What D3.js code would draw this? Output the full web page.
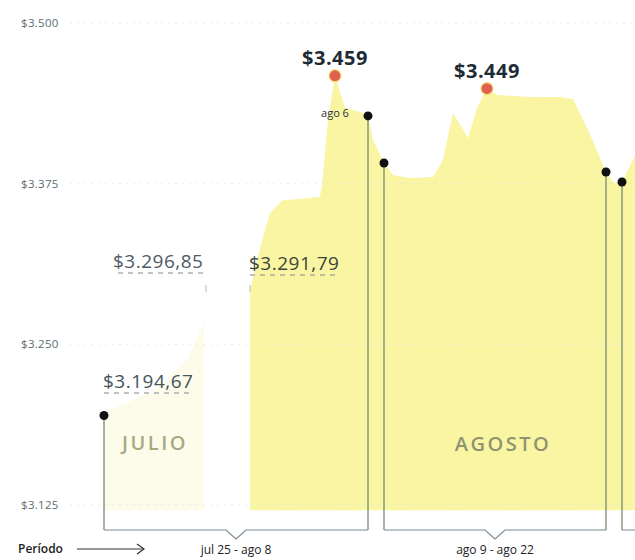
<!DOCTYPE html>
<html lang="es">
<head>
<meta charset="utf-8" />
<script src="https://cdn.jsdelivr.net/npm/d3@7"></script>
<style>
  body { margin: 0; background: #fff; }
  text { font-family: "Open Sans", sans-serif; }
</style>
</head>
<body>
<script>
// dias contados desde el 25 de julio
var diasJulio = [0, 1.5, 3, 4.5, 5.3];
var trmJulio  = [3198, 3206, 3218, 3240, 3268];

var dias = [7.74, 8.38, 8.8, 9.44, 11.45, 11.56, 11.88, 12.25, 12.78, 13.58, 14, 14.32,
            15, 15.53, 16.52, 17.87, 18.45, 19.04, 19.92, 20.45, 21.03, 21.62, 23.55,
            25.3, 26.07, 26.95, 28, 28.5, 29, 29.8];
var trm  = [3291.79, 3331, 3352, 3362, 3364.6, 3374, 3424.5, 3459, 3434, 3430.8, 3427.7, 3409,
            3391.1, 3381.8, 3379.4, 3380.2, 3393.4, 3430, 3410.5, 3434, 3449, 3444, 3442.4,
            3442.4, 3440.9, 3416.8, 3384.1, 3375.5, 3376.3, 3397];

var yTicks = [3125, 3250, 3375, 3500];

// inicio y cierre de cada periodo
var marcaDias    = [0, 14, 15, 28, 29];
var marcaValores = [3194.67, 3427.7, 3391.1, 3384.1, 3376.3];

var periodoInicio   = [0, 15, 29];
var periodoFin      = [14, 28, 34];
var periodoEtiqueta = ["jul 25 - ago 8", "ago 9 - ago 22", ""];

var picoDias    = [12.25, 21.03];
var picoValores = [3459, 3449];

var base = 3121;

var es = d3.formatLocale({decimal: ",", thousands: ".", grouping: [3], currency: ["$", ""]});
var fmtEje = es.format("$,.0f");
var fmtDec = es.format("$,.2f");

var w = 635, h = 560;
var x = d3.scaleLinear().domain([0, 14, 15, 28, 29]).range([104, 368, 384, 606, 622]);
var y = d3.scaleLinear().domain([3125, 3500]).range([505, 23]);
var yBracket = 530;

var svg = d3.select("body").append("svg")
  .attr("width", w)
  .attr("height", h);

// areas
var area = d3.area()
  .x(function(d) { return x(d[0]); })
  .y0(y(base))
  .y1(function(d) { return y(d[1]); });

svg.append("path")
  .datum(d3.zip(diasJulio, trmJulio))
  .attr("d", area)
  .attr("fill", "#fdfcea");

svg.append("path")
  .datum(d3.zip(dias, trm))
  .attr("d", area)
  .attr("fill", "#faf5a2");

// grilla y eje
svg.selectAll(".grid")
  .data(yTicks)
  .enter()
  .append("line")
  .attr("x1", 70).attr("x2", w)
  .attr("y1", function(d) { return y(d); })
  .attr("y2", function(d) { return y(d); })
  .attr("stroke", "#e2e6df")
  .attr("stroke-width", 0.8)
  .attr("stroke-dasharray", "2,5");

svg.selectAll(".tick")
  .data(yTicks)
  .enter()
  .append("text")
  .attr("x", 21)
  .attr("y", function(d) { return y(d) + 4; })
  .attr("font-size", 11.5)
  .attr("letter-spacing", 0.3)
  .attr("fill", "#5a6d70")
  .text(fmtEje);

// mes
svg.append("text")
  .attr("x", 155).attr("y", 450)
  .attr("text-anchor", "middle")
  .attr("font-size", 20).attr("font-weight", 600)
  .attr("letter-spacing", 2.5)
  .attr("fill", "#a5aa80")
  .text("JULIO");
svg.append("text")
  .attr("x", 503).attr("y", 451)
  .attr("text-anchor", "middle")
  .attr("font-size", 20).attr("font-weight", 600)
  .attr("letter-spacing", 2.5)
  .attr("fill", "#8f9372")
  .text("AGOSTO");

// lineas de marca
svg.selectAll(".stem")
  .data(d3.zip(marcaDias, marcaValores))
  .enter()
  .append("line")
  .attr("x1", function(d) { return x(d[0]); })
  .attr("x2", function(d) { return x(d[0]); })
  .attr("y1", function(d) { return y(d[1]); })
  .attr("y2", yBracket)
  .attr("stroke", "#768a72")
  .attr("stroke-width", 1.3);

// llaves de periodo
periodoInicio.forEach(function(ini, i) {
  var x0 = x(ini), x1 = x(periodoFin[i]), xm = (x0 + x1) / 2;
  var p = d3.path();
  p.moveTo(x0, yBracket);
  if (periodoEtiqueta[i]) {
    p.lineTo(xm - 10, yBracket);
    p.lineTo(xm, yBracket + 9);
    p.lineTo(xm + 10, yBracket);
  }
  p.lineTo(x1, yBracket);
  svg.append("path")
    .attr("d", p.toString())
    .attr("fill", "none")
    .attr("stroke", "#7a8a94")
    .attr("stroke-width", 1.1);
  svg.append("text")
    .attr("x", xm).attr("y", 554)
    .attr("text-anchor", "middle")
    .attr("font-size", 12)
    .attr("fill", "#222")
    .text(periodoEtiqueta[i]);
});

svg.selectAll(".marca")
  .data(d3.zip(marcaDias, marcaValores))
  .enter()
  .append("circle")
  .attr("cx", function(d) { return x(d[0]); })
  .attr("cy", function(d) { return y(d[1]); })
  .attr("r", 4.5)
  .attr("fill", "#111");

// valores con subrayado punteado
var notas = [
  {valor: 3296.85, x0: 113, linea: [118, 206], ty: 268, ly: 273, tick: 206, color: "#4f5a66"},
  {valor: 3291.79, x0: 249, linea: [250, 337], ty: 270, ly: 275, tick: 250, color: "#3a4638"},
  {valor: 3194.67, x0: 103, linea: [104, 193], ty: 388, ly: 393, tick: null, color: "#45535a"}
];
notas.forEach(function(n) {
  svg.append("text")
    .attr("x", n.x0).attr("y", n.ty)
    .attr("font-size", 19)
    .attr("letter-spacing", 0.5)
    .attr("fill", n.color)
    .text(fmtDec(n.valor));
  svg.append("line")
    .attr("x1", n.linea[0]).attr("x2", n.linea[1])
    .attr("y1", n.ly).attr("y2", n.ly)
    .attr("stroke", "#7d8893")
    .attr("stroke-dasharray", "5,5");
  if (n.tick) {
    svg.append("line")
      .attr("x1", n.tick).attr("x2", n.tick)
      .attr("y1", 285).attr("y2", 292)
      .attr("stroke", "#b3bac0");
  }
});

// picos
svg.selectAll(".pico")
  .data(d3.zip(picoDias, picoValores))
  .enter()
  .append("circle")
  .attr("cx", function(d) { return x(d[0]); })
  .attr("cy", function(d) { return y(d[1]); })
  .attr("r", 6)
  .attr("fill", "#e0604f")
  .attr("stroke", "#f6dc74")
  .attr("stroke-width", 1.2);

svg.selectAll(".picoTxt")
  .data(d3.zip(picoDias, picoValores))
  .enter()
  .append("text")
  .attr("x", function(d) { return x(d[0]); })
  .attr("y", function(d) { return y(d[1]) - 11; })
  .attr("text-anchor", "middle")
  .attr("font-size", 20).attr("font-weight", 700)
  .attr("letter-spacing", 0.5)
  .attr("fill", "#1e2b35")
  .text(function(d) { return fmtEje(d[1]); });

svg.append("text")
  .attr("x", x(picoDias[0]))
  .attr("y", y(picoValores[0]) + 41)
  .attr("text-anchor", "middle")
  .attr("font-size", 11)
  .attr("fill", "#2a3238")
  .text("ago 6");

// periodo
svg.append("text")
  .attr("x", 18).attr("y", 553)
  .attr("font-size", 12).attr("font-weight", 600)
  .attr("fill", "#222")
  .text("Período");
svg.append("line")
  .attr("x1", 77).attr("x2", 144)
  .attr("y1", 549).attr("y2", 549)
  .attr("stroke", "#333");
svg.append("path")
  .attr("d", "M137,544L144,549L137,554")
  .attr("fill", "none")
  .attr("stroke", "#333")
  .attr("stroke-width", 1.2);
</script>
</body>
</html>
